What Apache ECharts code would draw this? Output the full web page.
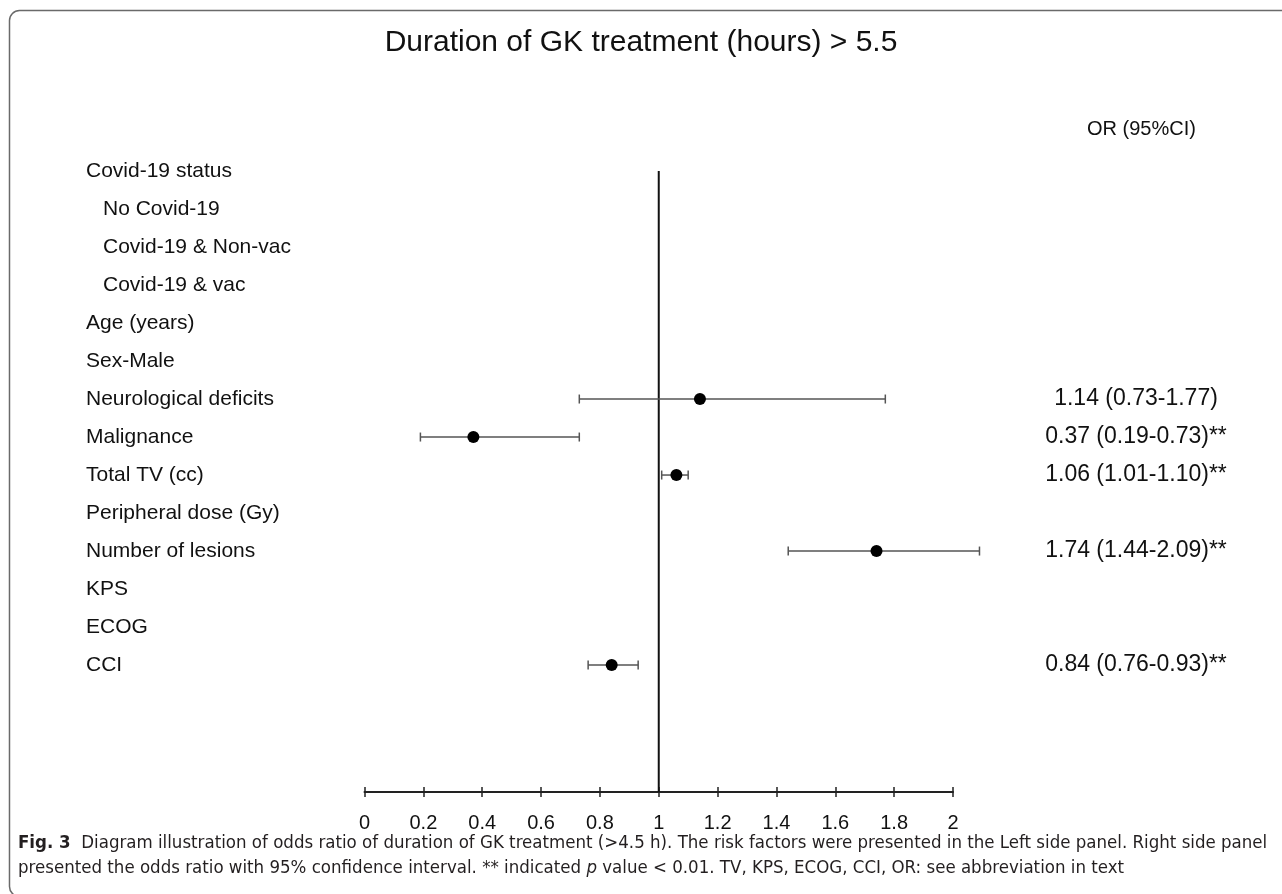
<!DOCTYPE html>
<html>
<head>
<meta charset="utf-8">
<script src="https://cdn.jsdelivr.net/npm/echarts@6/dist/echarts.min.js"></script>
<style>
html,body{margin:0;padding:0;background:#fff;}
#chart{width:1282px;height:894px;}
</style>
</head>
<body>
<div id="chart"></div>
<script>
const titleText = 'Duration of GK treatment (hours) > 5.5';
const orHeader = 'OR (95%CI)';
const rowLabels = ['Covid-19 status','No Covid-19','Covid-19 & Non-vac','Covid-19 & vac','Age (years)','Sex-Male','Neurological deficits','Malignance','Total TV (cc)','Peripheral dose (Gy)','Number of lesions','KPS','ECOG','CCI'];
const rowIndented = [false,true,true,true,false,false,false,false,false,false,false,false,false,false];
const orRows = [6,7,8,10,13];
const orValues = [1.14,0.37,1.06,1.74,0.84];
const ciLow = [0.73,0.19,1.01,1.44,0.76];
const ciHigh = [1.77,0.73,1.10,2.09,0.93];
const orLabels = ['1.14 (0.73-1.77)','0.37 (0.19-0.73)**','1.06 (1.01-1.10)**','1.74 (1.44-2.09)**','0.84 (0.76-0.93)**'];
const refValue = 1;
const xMin = 0, xMax = 2, xInterval = 0.2;
const yMin = 0, yMax = 16.34;
const captionLine1 = '{b|Fig. 3}  Diagram illustration of odds ratio of duration of GK treatment (>4.5 h). The risk factors were presented in the Left side panel. Right side panel';
const captionLine2 = 'presented the odds ratio with 95% confidence interval. ** indicated {i|p} value < 0.01. TV, KPS, ECOG, CCI, OR: see abbreviation in text';

const FONT = '"Liberation Sans", Arial, sans-serif';
const CAPFONT = '"Liberation Sans Narrow", "DejaVu Sans Condensed", sans-serif';
const chart = echarts.init(document.getElementById('chart'), null, {renderer:'canvas'});

const pointData = orRows.map((r,i)=>[orValues[i], r]);
const ciData = orRows.map((r,i)=>[ciLow[i], ciHigh[i], r]);

const yCommon = {type:'value', inverse:true, min:yMin, max:yMax, interval:1,
  axisLine:{show:false}, axisTick:{show:false}, splitLine:{show:false}};

const option = {
  backgroundColor:'#fff',
  animation:false,
  title:[
    {text:titleText, left:'center', top:23, textStyle:{fontFamily:FONT, fontSize:30, fontWeight:'normal', color:'#111'}},
    {text:orHeader, left:1082, top:114, textStyle:{fontFamily:FONT, fontSize:20, fontWeight:'normal', color:'#111'}}
  ],
  grid:{left:364.5, right:329, top:171, bottom:102, containLabel:false},
  xAxis:[
    {type:'value', min:xMin, max:xMax, interval:xInterval, position:'bottom',
     axisLine:{show:true, onZero:false, lineStyle:{color:'#222', width:2}},
     axisTick:{show:true, inside:false, length:5, lineStyle:{color:'#222', width:1.5}},
     axisLabel:{fontFamily:FONT, fontSize:20, color:'#111', margin:21},
     splitLine:{show:false}},
    {type:'value', min:xMin, max:xMax, interval:xInterval, position:'bottom',
     axisLine:{show:false, onZero:false},
     axisTick:{show:true, inside:true, length:5, lineStyle:{color:'#222', width:1.5}},
     axisLabel:{show:false}, splitLine:{show:false}}
  ],
  yAxis:[
    Object.assign({}, yCommon, {position:'left',
      axisLabel:{align:'left', margin:278.5, fontFamily:FONT, fontSize:21, color:'#111',
        formatter:function(v){const i=Math.round(v); if(i<0||i>=rowLabels.length) return ''; return rowIndented[i]?'{ind|'+rowLabels[i]+'}':rowLabels[i];},
        rich:{ind:{fontFamily:FONT, fontSize:21, color:'#111', padding:[0,0,0,17]}}}}),
    Object.assign({}, yCommon, {position:'right',
      axisLabel:{align:'center', margin:183, fontFamily:FONT, fontSize:23, color:'#111',
        formatter:function(v){const i=Math.round(v); const k=orRows.indexOf(i); return k>=0?orLabels[k]:'';}}})
  ],
  series:[
    {type:'line', xAxisIndex:0, yAxisIndex:0, data:[[refValue,yMin],[refValue,yMax]], symbol:'none',
     lineStyle:{color:'#111', width:2}, silent:true, z:2},
    {type:'custom', xAxisIndex:0, yAxisIndex:0, clip:false, data:ciData, z:3,
     renderItem:function(params, api){
       const a = api.coord([api.value(0), api.value(2)]);
       const b = api.coord([api.value(1), api.value(2)]);
       const h = 4.5;
       const st = {stroke:'#555', lineWidth:1.5};
       return {type:'group', children:[
         {type:'line', shape:{x1:a[0],y1:a[1],x2:b[0],y2:b[1]}, style:st},
         {type:'line', shape:{x1:a[0],y1:a[1]-h,x2:a[0],y2:a[1]+h}, style:st},
         {type:'line', shape:{x1:b[0],y1:b[1]-h,x2:b[0],y2:b[1]+h}, style:st}
       ]};
     }},
    {type:'scatter', xAxisIndex:0, yAxisIndex:0, data:pointData, symbol:'circle', symbolSize:12,
     itemStyle:{color:'#000', opacity:1}, z:5}
  ],
  graphic:[
    {type:'rect', shape:{x:9.5, y:10.5, width:1300, height:886, r:10}, style:{fill:'none', stroke:'#6a6a6a', lineWidth:1.5}, silent:true},
    {type:'text', left:18, top:834, style:{text:captionLine1, fontFamily:CAPFONT, fontSize:18.5, fill:'#231f20',
      rich:{b:{fontFamily:CAPFONT, fontWeight:'bold', fontSize:18.5, fill:'#231f20'}}}},
    {type:'text', left:18, top:859, style:{text:captionLine2, fontFamily:CAPFONT, fontSize:18.5, fill:'#231f20',
      rich:{i:{fontFamily:CAPFONT, fontStyle:'italic', fontSize:18.5, fill:'#231f20'}}}}
  ]
};
chart.setOption(option);
</script>
</body>
</html>
